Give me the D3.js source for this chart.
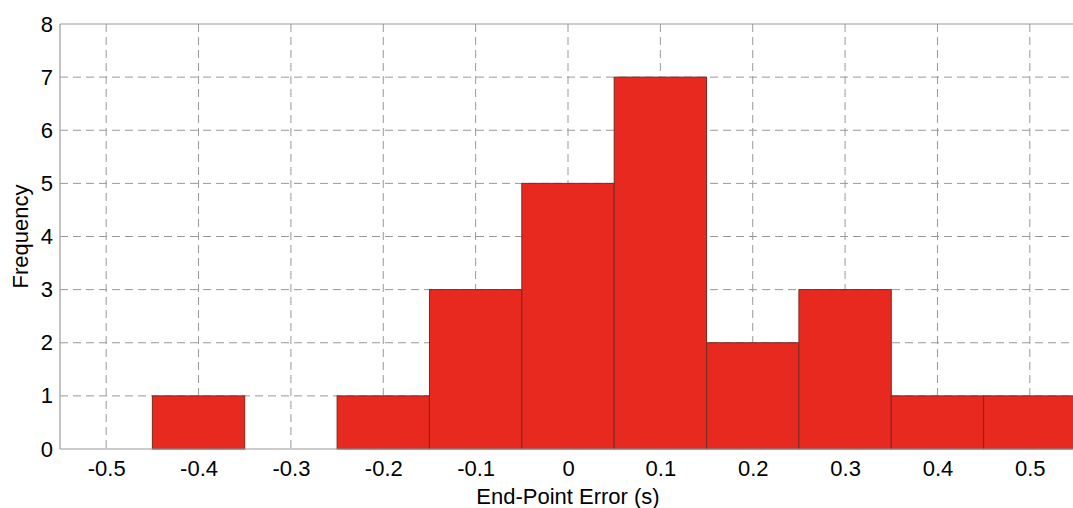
<!DOCTYPE html>
<html><head><meta charset="utf-8">
<script src="https://cdn.jsdelivr.net/npm/d3@7"></script>
<style>body{margin:0;background:#fff;}svg{display:block;}</style>
</head><body>
<svg id="c" width="1073" height="508"></svg>
<script>
const binCenters = [-0.4, -0.3, -0.2, -0.1, 0, 0.1, 0.2, 0.3, 0.4, 0.5];
const frequencies = [1, 0, 1, 3, 5, 7, 2, 3, 1, 1];
const xTicks = [-0.5, -0.4, -0.3, -0.2, -0.1, 0, 0.1, 0.2, 0.3, 0.4, 0.5];
const yTicks = [0, 1, 2, 3, 4, 5, 6, 7, 8];
const binWidth = 0.1;

const svg = d3.select("#c");
const m = {left: 60, top: 24, bottom: 449};
const x = d3.scaleLinear().domain([-0.55, 0.55]).range([m.left, m.left + 1016]);
const y = d3.scaleLinear().domain([0, 8]).range([m.bottom, m.top]);
const font = "'Liberation Sans', Arial, sans-serif";
const fs = 22;

// grid
svg.append("g").selectAll("line").data(xTicks).join("line")
  .attr("x1", d => x(d)).attr("x2", d => x(d)).attr("y1", y(8)).attr("y2", y(0))
  .attr("stroke", "#999").attr("stroke-width", 1).attr("stroke-dasharray", "8,5");
svg.append("g").selectAll("line").data(yTicks.filter(d => d > 0 && d < 8)).join("line")
  .attr("x1", m.left).attr("x2", 1073).attr("y1", d => y(d)).attr("y2", d => y(d))
  .attr("stroke", "#999").attr("stroke-width", 1).attr("stroke-dasharray", "8,5");

// bars
svg.append("g").selectAll("rect").data(binCenters.map((c, i) => ({c, f: frequencies[i]})).filter(d => d.f > 0)).join("rect")
  .attr("x", d => x(d.c - binWidth / 2)).attr("width", d => x(d.c + binWidth / 2) - x(d.c - binWidth / 2))
  .attr("y", d => y(d.f)).attr("height", d => y(0) - y(d.f))
  .attr("fill", "#e8291f").attr("stroke", "#7a2a20").attr("stroke-width", 1);

// frame
svg.append("line").attr("x1", m.left).attr("x2", 1073).attr("y1", y(8)).attr("y2", y(8)).attr("stroke", "#999").attr("stroke-width", 1.2);
svg.append("line").attr("x1", m.left).attr("x2", 1073).attr("y1", y(0)).attr("y2", y(0)).attr("stroke", "#999").attr("stroke-width", 1.2);
svg.append("line").attr("x1", m.left).attr("x2", m.left).attr("y1", y(8)).attr("y2", y(0)).attr("stroke", "#999").attr("stroke-width", 1.2);

// axes (labels only)
const xAxis = svg.append("g").attr("transform", `translate(0,${y(0)})`)
  .call(d3.axisBottom(x).tickValues(xTicks).tickSize(0).tickPadding(11).tickFormat(d => d === 0 ? "0" : (d < 0 ? "-" : "") + Math.abs(d).toFixed(1)));
xAxis.select(".domain").remove();
xAxis.selectAll("text").attr("font-family", font).attr("font-size", fs).attr("fill", "#000");
const yAxis = svg.append("g").attr("transform", `translate(${m.left},0)`)
  .call(d3.axisLeft(y).tickValues(yTicks).tickSize(0).tickPadding(7).tickFormat(d3.format("d")));
yAxis.select(".domain").remove();
yAxis.selectAll("text").attr("font-family", font).attr("font-size", fs).attr("fill", "#000");

svg.append("text").attr("x", x(0)).attr("y", 504).attr("text-anchor", "middle")
  .attr("font-family", font).attr("font-size", fs).text("End-Point Error (s)");
svg.append("text").attr("transform", `translate(28,${(y(0) + y(8)) / 2}) rotate(-90)`).attr("text-anchor", "middle")
  .attr("font-family", font).attr("font-size", fs).text("Frequency");
</script>
</body></html>
